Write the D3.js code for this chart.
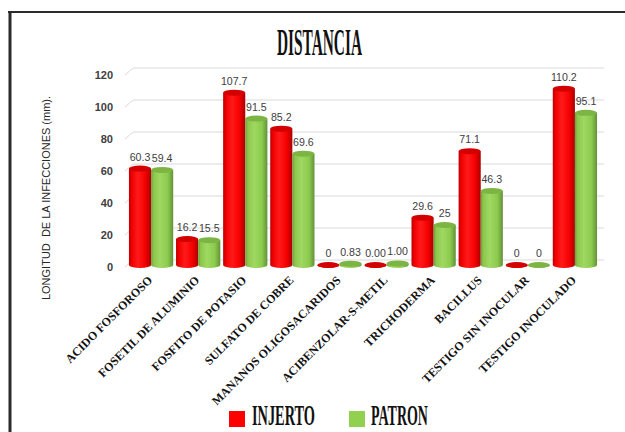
<!DOCTYPE html>
<html>
<head>
<meta charset="utf-8">
<script src="https://cdn.jsdelivr.net/npm/d3@7"></script>
<style>
  body { margin: 0; background: #fff; }
  svg { display: block; }
</style>
</head>
<body>
<svg width="625" height="432"></svg>
<script>
const categories = [
  'ACIDO FOSFOROSO', 'FOSETIL DE ALUMINIO', 'FOSFITO DE POTASIO', 'SULFATO DE COBRE',
  'MANANOS OLIGOSACARIDOS', 'ACIBENZOLAR-S-METIL', 'TRICHODERMA', 'BACILLUS',
  'TESTIGO SIN INOCULAR', 'TESTIGO INOCULADO'
];
const injerto = [60.3, 16.2, 107.7, 85.2, 0, 0, 29.6, 71.1, 0, 110.2];
const patron = [59.4, 15.5, 91.5, 69.6, 0.83, 1.00, 25, 46.3, 0, 95.1];
const injertoText = ['60.3', '16.2', '107.7', '85.2', '0', '0.00', '29.6', '71.1', '0', '110.2'];
const patronText = ['59.4', '15.5', '91.5', '69.6', '0.83', '1.00', '25', '46.3', '0', '95.1'];
const yTicks = [0, 20, 40, 60, 80, 100, 120];

const svg = d3.select('svg');
const defs = svg.append('defs');

// cylinder shading
function shade(id, stops) {
  const g = defs.append('linearGradient').attr('id', id)
    .attr('x1', '0%').attr('x2', '100%').attr('y1', '0%').attr('y2', '0%');
  stops.forEach(s => g.append('stop').attr('offset', s[0]).attr('stop-color', s[1]));
}
shade('redBody', [['0%', '#b80000'], ['12%', '#f00000'], ['40%', '#ff1a1a'], ['75%', '#f50000'], ['100%', '#a80000']]);
shade('greenBody', [['0%', '#6e9e3a'], ['12%', '#8cc84c'], ['40%', '#9fd862'], ['75%', '#8ccb4e'], ['100%', '#64913a']]);

const series = [
  { name: 'INJERTO', values: injerto, text: injertoText, body: 'url(#redBody)', top: '#d40000', key: '#ff0000' },
  { name: 'PATRON', values: patron, text: patronText, body: 'url(#greenBody)', top: '#7db544', key: '#92d050' }
];

// squeezed heavy serif text (title and legend)
function narrowText(px, baseline, width, size, str) {
  const t = svg.append('text')
    .attr('font-family', 'Liberation Serif, Times New Roman, serif')
    .attr('font-weight', 'bold').attr('font-size', size).attr('fill', '#111')
    .text(str);
  const w = t.node().getComputedTextLength();
  t.attr('transform', `translate(${px},${baseline}) scale(${width / w},1)`);
  return t;
}

// frame
svg.append('line').attr('x1', 8).attr('x2', 625).attr('y1', 12).attr('y2', 12)
  .attr('stroke', '#2b2b2b').attr('stroke-width', 2);
svg.append('line').attr('x1', 10).attr('x2', 10).attr('y1', 11).attr('y2', 432)
  .attr('stroke', '#2b2b2b').attr('stroke-width', 3);

// scales
const y = d3.scaleLinear().domain([0, 120]).range([265, 73]);
const x = d3.scaleBand().domain(categories).range([128, 598]).paddingInner(0.06).paddingOuter(0.02);
const xs = d3.scaleBand().domain(series.map(s => s.name)).range([0, x.bandwidth()]);

// grid (back wall, 3D offset)
const grid = svg.append('g');
yTicks.forEach(t => {
  grid.append('path')
    .attr('d', `M125,${y(t) + 2}L133,${y(t) - 5}L604,${y(t) - 5}`)
    .attr('fill', 'none').attr('stroke', '#d9d9d9').attr('stroke-width', 1);
});

// y axis labels
svg.append('g')
  .attr('transform', 'translate(113,2)')
  .call(d3.axisLeft(y).tickValues(yTicks).tickSize(0).tickPadding(0))
  .call(g => g.select('.domain').remove())
  .selectAll('text')
  .attr('font-family', 'Liberation Sans, Arial, sans-serif')
  .attr('font-size', 11).attr('font-weight', 'bold').attr('fill', '#404040');

svg.append('text')
  .attr('transform', 'translate(50,198) rotate(-90)')
  .attr('text-anchor', 'middle')
  .attr('font-family', 'Liberation Sans, Arial, sans-serif')
  .attr('font-size', 11).attr('fill', '#262626')
  .style('white-space', 'pre')
  .text('LONGITUD  DE LA INFECCIONES (mm).');

// bars as cylinders
const ry = 3;
const groups = svg.append('g').selectAll('g')
  .data(categories).enter().append('g')
  .attr('transform', c => `translate(${x(c)},0)`);

series.forEach(s => {
  groups.each(function (c, i) {
    const g = d3.select(this);
    const x0 = xs(s.name), w = xs.bandwidth(), rx = w / 2;
    const yt = y(s.values[i]), yb = y(0);
    g.append('path')
      .attr('d', `M${x0},${yt}L${x0},${yb}A${rx},${ry} 0 0 0 ${x0 + w},${yb}L${x0 + w},${yt}Z`)
      .attr('fill', s.body);
    g.append('ellipse')
      .attr('cx', x0 + rx).attr('cy', yt).attr('rx', rx).attr('ry', ry)
      .attr('fill', s.top);
    g.append('text')
      .attr('x', x0 + rx).attr('y', yt - 8)
      .attr('text-anchor', 'middle')
      .attr('font-family', 'Liberation Sans, Arial, sans-serif')
      .attr('font-size', 10.6).attr('fill', '#404040')
      .text(s.text[i]);
  });
});

// category labels
svg.append('g').selectAll('text')
  .data(categories).enter().append('text')
  .attr('transform', c => `translate(${x(c) + x.bandwidth() / 2 - 4},275) rotate(-45)`)
  .attr('text-anchor', 'end')
  .attr('dy', '0.7em')
  .attr('font-family', 'Liberation Serif, Times New Roman, serif')
  .attr('font-weight', 'bold').attr('font-size', 12).attr('fill', '#111')
  .text(c => c);

// title
narrowText(277, 55, 85, 37, 'DISTANCIA');

// legend
const legendPos = [{ sx: 229, tx: 252, tw: 63 }, { sx: 349, tx: 371, tw: 57 }];
series.forEach((s, i) => {
  const p = legendPos[i];
  svg.append('rect').attr('x', p.sx).attr('y', 411).attr('width', 16).attr('height', 16).attr('fill', s.key);
  narrowText(p.tx, 425, p.tw, 30, s.name);
});
</script>
</body>
</html>
